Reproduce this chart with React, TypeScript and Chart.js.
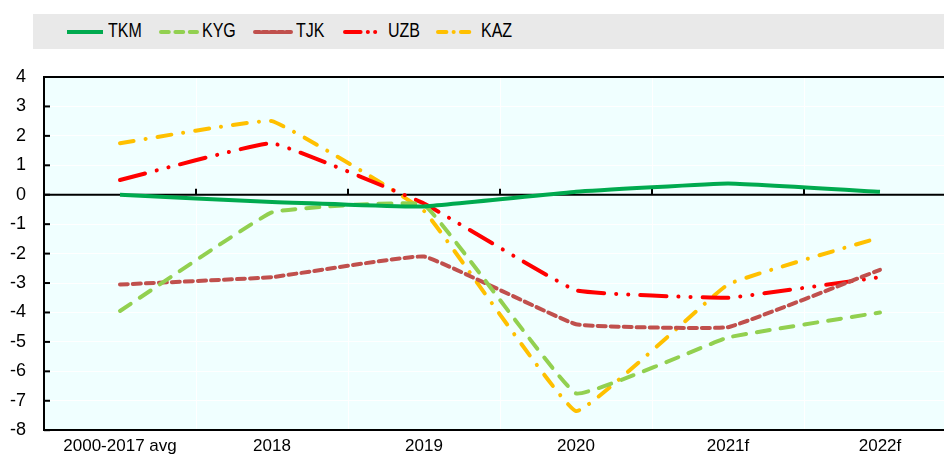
import React, { useEffect, useRef } from "react";
import { Chart, registerables } from "chart.js";

Chart.register(...registerables);

const categories = ["2000-2017 avg", "2018", "2019", "2020", "2021f", "2022f"];
const tkm = [0, -0.25, -0.4, 0.1, 0.38, 0.1];
const kyg = [-3.95, -0.6, -0.35, -6.75, -4.85, -4.0];
const tjk = [-3.05, -2.8, -2.1, -4.4, -4.5, -2.55];
const uzb = [0.5, 1.75, -0.3, -3.25, -3.5, -2.8];
const kaz = [1.75, 2.5, -0.55, -7.35, -3.05, -1.45];
const yMin = -8;
const yMax = 4;

const FONT = "'Liberation Sans', Arial, sans-serif";

const series = [
  { label: "TKM", data: tkm, color: "#00AA4F", dash: [] as number[], cap: "butt" },
  { label: "KYG", data: kyg, color: "#92D050", dash: [13, 11], cap: "round" },
  { label: "TJK", data: tjk, color: "#C0504D", dash: [8, 5], cap: "round" },
  { label: "UZB", data: uzb, color: "#FF0000", dash: [26, 12, 0.1, 12, 0.1, 12], cap: "round" },
  { label: "KAZ", data: kaz, color: "#FFC000", dash: [14, 12, 0.1, 12], cap: "round" },
];

const decorPlugin = {
  id: "decor",
  beforeDraw(chart: any) {
    const { ctx, chartArea } = chart;
    ctx.save();
    ctx.fillStyle = "#F0FFFF";
    ctx.fillRect(chartArea.left, chartArea.top, chartArea.right - chartArea.left, chartArea.bottom - chartArea.top);
    ctx.restore();
  },
  beforeDatasetsDraw(chart: any) {
    const { ctx, chartArea, scales } = chart;
    const y = scales.y;
    const x = scales.x;
    const y0 = y.getPixelForValue(0);
    ctx.save();
    ctx.strokeStyle = "#000";
    ctx.lineWidth = 2;
    ctx.beginPath();
    ctx.moveTo(chartArea.left, y0);
    ctx.lineTo(chartArea.right, y0);
    ctx.stroke();
    ctx.beginPath();
    ctx.moveTo(chartArea.left, chartArea.top);
    ctx.lineTo(chartArea.right, chartArea.top);
    ctx.stroke();
    for (let i = 1; i < categories.length; i++) {
      const px = (x.getPixelForValue(i - 1) + x.getPixelForValue(i)) / 2;
      ctx.beginPath();
      ctx.moveTo(px, y0);
      ctx.lineTo(px, y0 - 6);
      ctx.stroke();
    }
    for (let v = yMin; v <= yMax; v++) {
      const py = y.getPixelForValue(v);
      ctx.beginPath();
      ctx.moveTo(chartArea.left, py);
      ctx.lineTo(chartArea.left + 6, py);
      ctx.stroke();
    }
    ctx.restore();
  },
};

function LegendSwatch({ color, dash, cap }: { color: string; dash: number[]; cap: string }) {
  return (
    <svg width={40} height={10} style={{ display: "block" }}>
      <line
        x1={2}
        y1={5}
        x2={38}
        y2={5}
        stroke={color}
        strokeWidth={4}
        strokeLinecap={cap as any}
        strokeDasharray={dash.length ? dash.map((d) => Math.max(d * 0.6, 0.1)).join(" ") : undefined}
      />
    </svg>
  );
}

export default function App() {
  const canvasRef = useRef<HTMLCanvasElement | null>(null);

  useEffect(() => {
    const canvas = canvasRef.current;
    if (!canvas) return;
    const chart = new Chart(canvas, {
      type: "line",
      data: {
        labels: categories,
        datasets: series.map((s) => ({
          label: s.label,
          data: s.data,
          borderColor: s.color,
          backgroundColor: s.color,
          borderWidth: 4,
          borderDash: s.dash,
          borderCapStyle: s.cap as any,
          borderJoinStyle: "round" as any,
          pointRadius: 0,
          tension: 0.08,
          fill: false,
        })),
      },
      options: {
        responsive: false,
        animation: false,
        layout: { autoPadding: false, padding: { top: 77, right: 4, left: 0, bottom: 0 } },
        plugins: {
          legend: { display: false },
          tooltip: { enabled: false },
        },
        scales: {
          x: {
            offset: true,
            grid: {
              offset: true,
              color: "#FFFFFF",
              lineWidth: 1,
              drawTicks: false,
            },
            border: { display: true, color: "#000", width: 2 },
            ticks: {
              color: "#000",
              font: { family: FONT, size: 17 },
              padding: 6,
              maxRotation: 0,
              autoSkip: false,
            },
            afterFit(scale: any) {
              scale.height = 26;
            },
          },
          y: {
            min: yMin,
            max: yMax,
            ticks: {
              stepSize: 1,
              color: "#000",
              font: { family: FONT, size: 18 },
              padding: 18,
            },
            grid: {
              color: "#FFFFFF",
              lineWidth: 1,
              drawTicks: false,
            },
            border: { display: true, color: "#000", width: 2 },
            afterFit(scale: any) {
              scale.width = 44;
            },
          },
        },
      },
      plugins: [decorPlugin],
    });
    return () => chart.destroy();
  }, []);

  const legendPos = [
    { x: 65, tx: 108 },
    { x: 159, tx: 202 },
    { x: 253, tx: 296 },
    { x: 343, tx: 388 },
    { x: 436, tx: 481 },
  ];

  return (
    <div style={{ position: "fixed", left: 0, top: 0, width: 944, height: 455, overflow: "hidden", background: "#fff" }}>
      <canvas ref={canvasRef} width={960} height={459} style={{ position: "absolute", left: 0, top: 0, width: 960, height: 459 }} />
      <div
        style={{
          position: "absolute",
          left: 33,
          top: 14,
          width: 911,
          height: 35,
          background: "#E9E9E9",
        }}
      >
        {series.map((s, i) => (
          <React.Fragment key={s.label}>
            <div style={{ position: "absolute", left: legendPos[i].x - 33, top: 13 }}>
              <LegendSwatch color={s.color} dash={s.dash} cap={s.cap} />
            </div>
            <div
              style={{
                position: "absolute",
                left: legendPos[i].tx - 33,
                top: 5,
                fontFamily: FONT,
                fontSize: 20,
                lineHeight: "23px",
                color: "#000",
                transform: "scaleX(0.8)",
                transformOrigin: "left center",
                whiteSpace: "nowrap",
              }}
            >
              {s.label}
            </div>
          </React.Fragment>
        ))}
      </div>
    </div>
  );
}
